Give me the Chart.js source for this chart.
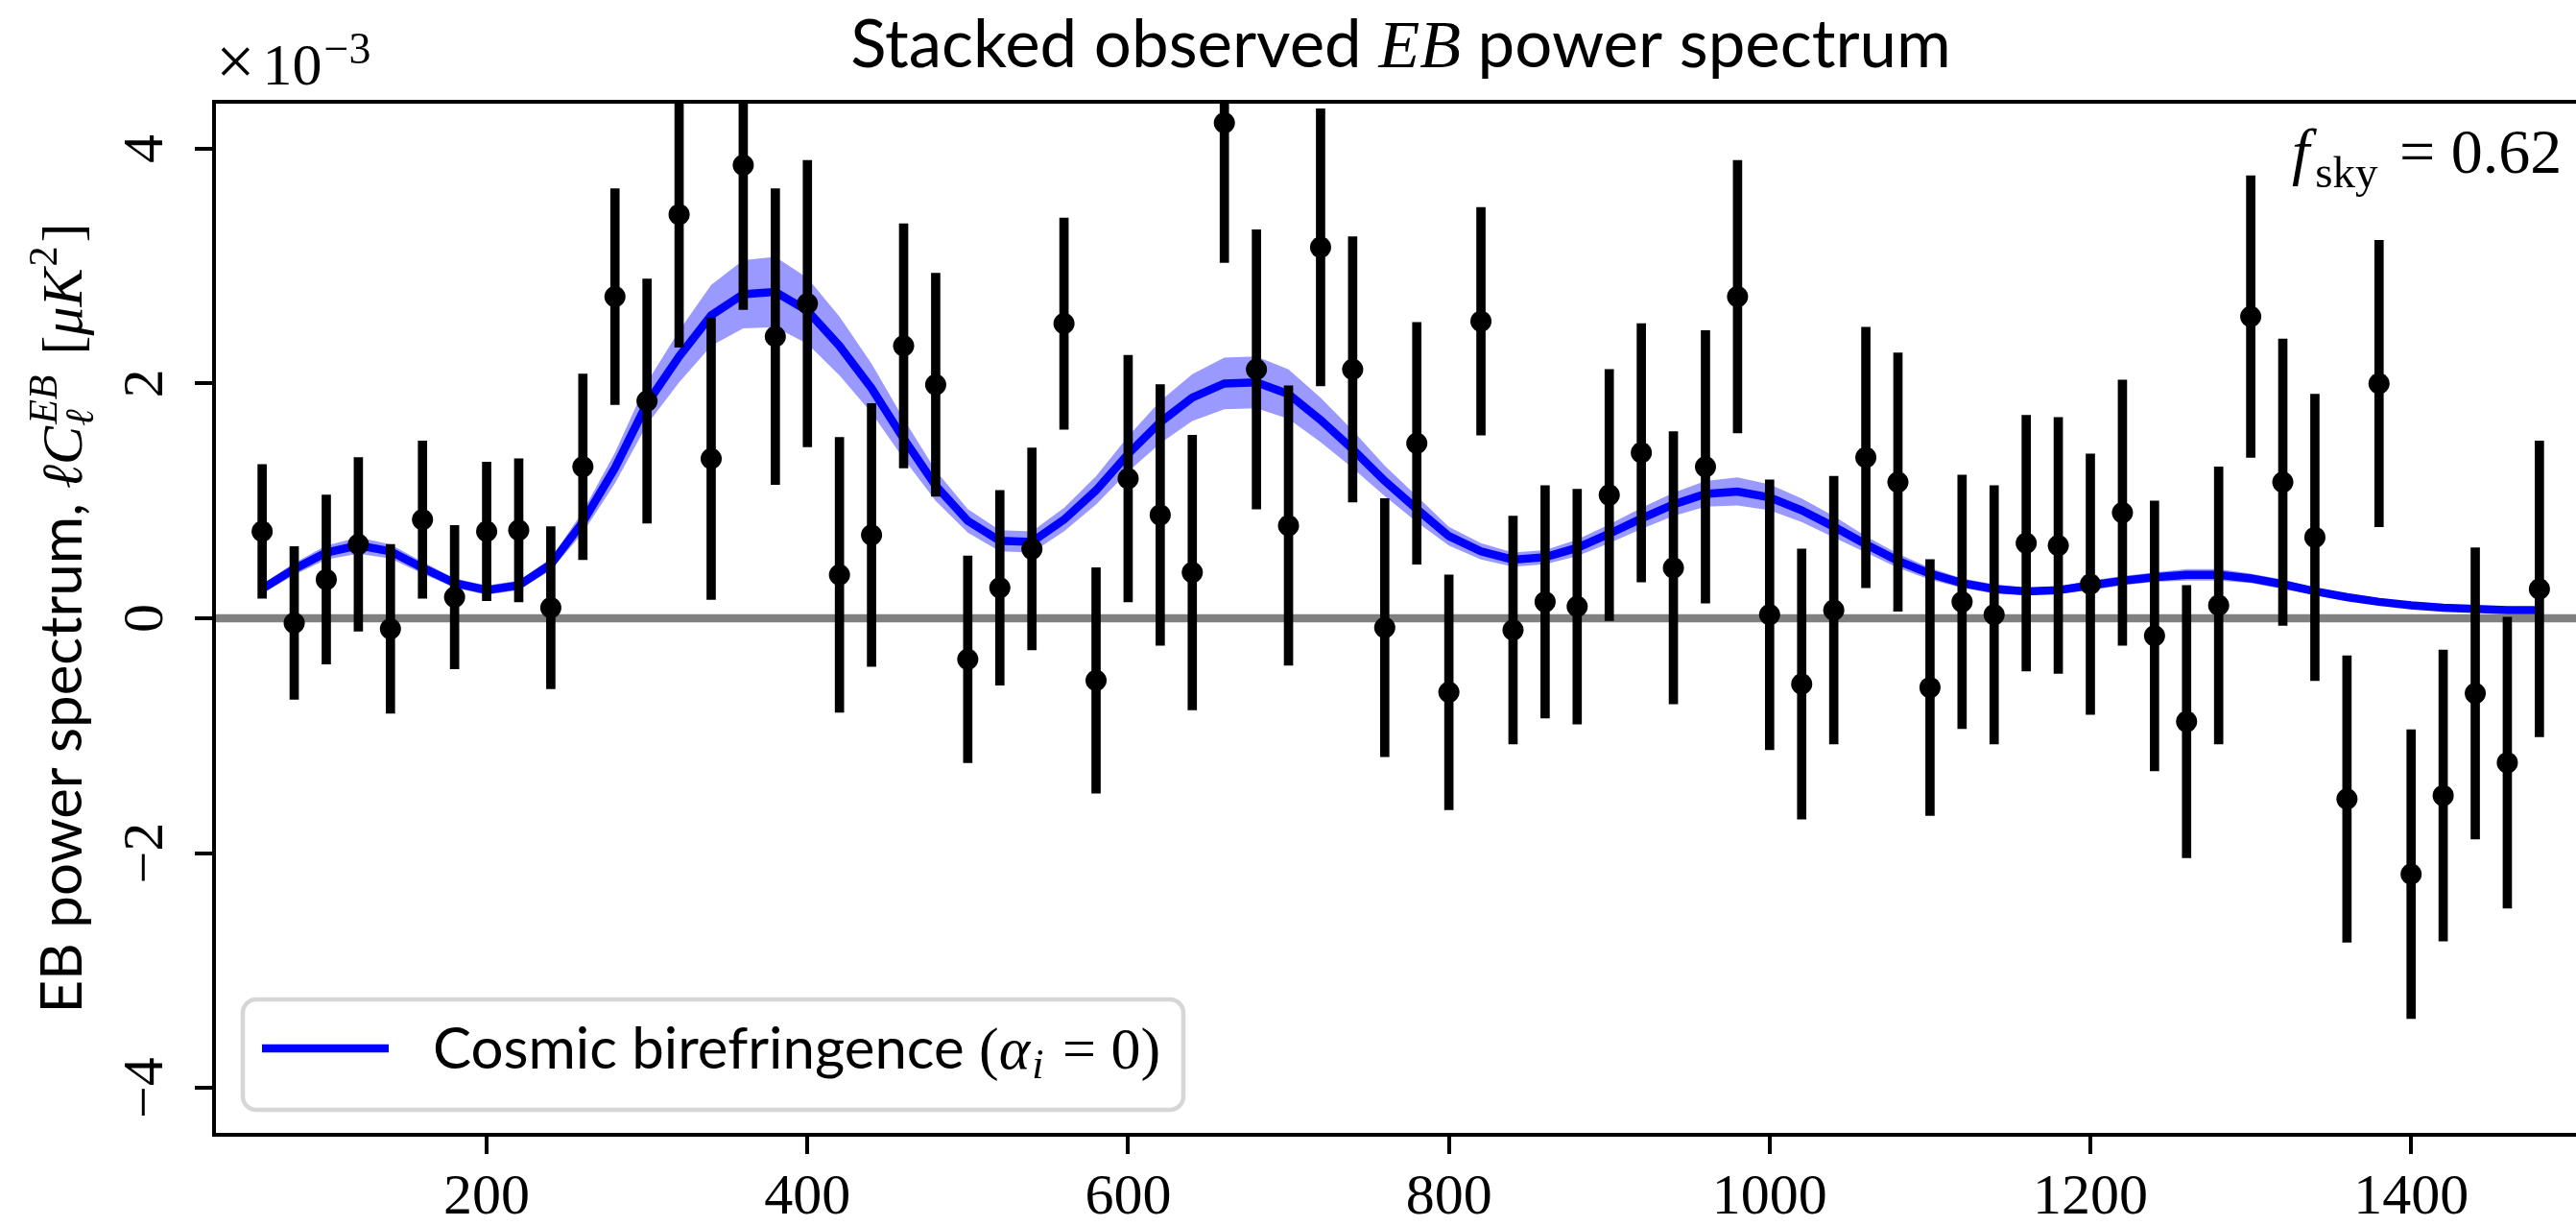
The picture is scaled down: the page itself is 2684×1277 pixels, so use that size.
<!DOCTYPE html>
<html>
<head>
<meta charset="utf-8">
<script src="https://cdn.jsdelivr.net/npm/chart.js@4.4.1/dist/chart.umd.min.js"></script>
<style>
    html, body { margin: 0; padding: 0; background: #fff; overflow: hidden; }
    canvas { display: block; }
</style>
</head>
<body>
<canvas id="ebChart" width="2707" height="1277"></canvas>
<script>
// multipole bins
const ells = [
    60, 80, 100, 120, 140, 160, 180, 200, 220, 240,
    260, 280, 300, 320, 340, 360, 380, 400, 420, 440,
    460, 480, 500, 520, 540, 560, 580, 600, 620, 640,
    660, 680, 700, 720, 740, 760, 780, 800, 820, 840,
    860, 880, 900, 920, 940, 960, 980, 1000, 1020, 1040,
    1060, 1080, 1100, 1120, 1140, 1160, 1180, 1200, 1220, 1240,
    1260, 1280, 1300, 1320, 1340, 1360, 1380, 1400, 1420, 1440,
    1460, 1480
];

// stacked observed EB, in units of 1e-3 uK^2
const obsEB = [
    0.74, -0.04, 0.33, 0.63, -0.09, 0.84, 0.18, 0.74, 0.75, 0.09,
    1.29, 2.74, 1.85, 3.44, 1.36, 3.86, 2.40, 2.68, 0.37, 0.71,
    2.32, 1.99, -0.35, 0.26, 0.59, 2.51, -0.53, 1.19, 0.88, 0.39,
    4.22, 2.12, 0.79, 3.16, 2.12, -0.08, 1.49, -0.63, 2.53, -0.10,
    0.14, 0.10, 1.05, 1.41, 0.43, 1.29, 2.74, 0.03, -0.56, 0.07,
    1.37, 1.16, -0.59, 0.14, 0.03, 0.64, 0.62, 0.29, 0.90, -0.15,
    -0.88, 0.11, 2.57, 1.16, 0.69, -1.54, 2.00, -2.18, -1.51, -0.64,
    -1.23, 0.25
];

const obsErr = [
    0.57, 0.65, 0.72, 0.74, 0.72, 0.67, 0.61, 0.59, 0.61, 0.69,
    0.79, 0.92, 1.04, 1.13, 1.20, 1.23, 1.26, 1.22, 1.17, 1.12,
    1.04, 0.95, 0.88, 0.83, 0.86, 0.90, 0.96, 1.05, 1.11, 1.17,
    1.19, 1.19, 1.19, 1.18, 1.13, 1.10, 1.03, 1.00, 0.97, 0.97,
    0.99, 1.00, 1.07, 1.10, 1.16, 1.16, 1.16, 1.15, 1.15, 1.14,
    1.11, 1.10, 1.09, 1.08, 1.10, 1.09, 1.09, 1.11, 1.13, 1.15,
    1.16, 1.18, 1.20, 1.22, 1.22, 1.22, 1.22, 1.23, 1.24, 1.24,
    1.24, 1.26
];

// cosmic birefringence model (alpha_i = 0) and its spread
const modelEB = [
    0.25, 0.42, 0.56, 0.62, 0.57, 0.43, 0.30, 0.24, 0.28, 0.46,
    0.82, 1.28, 1.83, 2.23, 2.58, 2.76, 2.78, 2.62, 2.32, 1.96,
    1.53, 1.13, 0.83, 0.66, 0.65, 0.84, 1.09, 1.40, 1.67, 1.88,
    2.00, 2.01, 1.91, 1.69, 1.44, 1.17, 0.93, 0.70, 0.57, 0.50,
    0.52, 0.60, 0.72, 0.85, 0.97, 1.06, 1.08, 1.03, 0.92, 0.78,
    0.63, 0.49, 0.38, 0.30, 0.25, 0.23, 0.24, 0.28, 0.32, 0.35,
    0.37, 0.37, 0.34, 0.29, 0.23, 0.18, 0.14, 0.11, 0.09, 0.08,
    0.07, 0.07
];

const modelErr = [
    0.04, 0.05, 0.06, 0.07, 0.06, 0.05, 0.04, 0.04, 0.04, 0.05,
    0.09, 0.13, 0.18, 0.22, 0.26, 0.29, 0.30, 0.28, 0.25, 0.21,
    0.17, 0.13, 0.10, 0.09, 0.09, 0.10, 0.12, 0.15, 0.18, 0.20,
    0.22, 0.22, 0.21, 0.19, 0.16, 0.13, 0.11, 0.08, 0.07, 0.06,
    0.06, 0.07, 0.08, 0.09, 0.10, 0.11, 0.12, 0.11, 0.10, 0.09,
    0.07, 0.06, 0.05, 0.04, 0.04, 0.03, 0.03, 0.04, 0.04, 0.04,
    0.05, 0.05, 0.04, 0.04, 0.03, 0.03, 0.02, 0.02, 0.02, 0.02,
    0.02, 0.02
];

const xTicksStep = 200;
const yTicksStep = 2;
const fskyValue = '0.62';

const SANS = "Lato, 'DejaVu Sans', sans-serif";
const SERIF = "'Liberation Serif', 'DejaVu Serif', serif";
const BLUE = '#0000ff';

// draws a row of text pieces with their own fonts; dy shifts sub/superscripts
function drawRuns(ctx, runs, x, y, align) {
    let total = 0;
    const widths = runs.map(r => {
        ctx.font = r.font;
        const w = r.stay ? 0 : ctx.measureText(r.t).width + (r.gap || 0);
        total += w;
        return w;
    });
    let cx = x;
    if (align === 'center') cx = x - total / 2;
    if (align === 'right') cx = x - total;
    ctx.textAlign = 'left';
    ctx.textBaseline = 'alphabetic';
    runs.forEach((r, i) => {
        ctx.font = r.font;
        ctx.fillText(r.t, cx + (r.gap || 0), y + (r.dy || 0));
        cx += widths[i];
    });
}

const sans = (size) => `${size}px ${SANS}`;
const serif = (size) => `${size}px ${SERIF}`;
const italic = (size) => `italic ${size}px ${SERIF}`;

const decorations = {
    id: 'decorations',
    beforeDatasetsDraw(chart) {
        const { ctx, chartArea: a, scales } = chart;
        const y0 = scales.y.getPixelForValue(0);
        ctx.save();
        ctx.strokeStyle = '#808080';
        ctx.lineWidth = 8.5;
        ctx.beginPath();
        ctx.moveTo(a.left, y0);
        ctx.lineTo(a.right, y0);
        ctx.stroke();
        ctx.restore();
    },
    afterDraw(chart) {
        const { ctx, chartArea: a, scales } = chart;
        ctx.save();

        // axes frame
        ctx.strokeStyle = '#000';
        ctx.lineWidth = 4;
        ctx.strokeRect(a.left, a.top, a.right - a.left, a.bottom - a.top);

        ctx.fillStyle = '#000';

        // y tick labels, rotated like the axis label
        scales.y.ticks.forEach(t => {
            const py = scales.y.getPixelForValue(t.value);
            const txt = t.value < 0 ? '\u2212' + Math.abs(t.value) : String(t.value);
            ctx.save();
            ctx.translate(a.left - 54, py);
            ctx.rotate(-Math.PI / 2);
            ctx.font = serif(60);
            ctx.textAlign = 'center';
            ctx.textBaseline = 'alphabetic';
            ctx.fillText(txt, 0, 0);
            ctx.restore();
        });

        // title
        drawRuns(ctx, [
            { t: 'Stacked observed ', font: sans(69) },
            { t: 'EB', font: italic(70) },
            { t: ' power spectrum', font: sans(69) }
        ], (a.left + a.right) / 2, 70, 'center');

        // y axis label
        ctx.save();
        ctx.translate(85, (a.top + a.bottom) / 2);
        ctx.rotate(-Math.PI / 2);
        drawRuns(ctx, [
            { t: 'EB power spectrum, ', font: sans(60) },
            { t: '\u2113C', font: italic(60) },
            { t: '\u2113', font: italic(42), dy: 12, stay: true },
            { t: 'EB', font: italic(42), dy: -26, gap: 2 },
            { t: ' [', font: serif(60), gap: 6 },
            { t: '\u03bcK', font: italic(60) },
            { t: '2', font: serif(42), dy: -26, gap: 2 },
            { t: ']', font: serif(60), gap: 4 }
        ], 0, 0, 'center');
        ctx.restore();

        // scale factor above the y axis
        drawRuns(ctx, [
            { t: '\u00d7', font: serif(72) },
            { t: '10', font: serif(62), gap: 8 },
            { t: '\u22123', font: serif(46), dy: -22, gap: 2 }
        ], a.left + 2, 88, 'left');

        // sky fraction note
        drawRuns(ctx, [
            { t: 'f', font: italic(66) },
            { t: 'sky', font: serif(47), dy: 15, gap: 6 },
            { t: ' = ' + fskyValue, font: serif(66), gap: 6 }
        ], a.left + (a.right - a.left) * 0.99 - 2, 180, 'right');

        // legend box
        const lx = 253, ly = 1041, lw = 980, lh = 115;
        ctx.beginPath();
        ctx.roundRect(lx, ly, lw, lh, 14);
        ctx.fillStyle = 'rgba(255,255,255,0.8)';
        ctx.fill();
        ctx.strokeStyle = '#d6d6d6';
        ctx.lineWidth = 4.5;
        ctx.stroke();

        const model = chart.data.datasets[2];
        ctx.strokeStyle = model.borderColor;
        ctx.lineWidth = model.borderWidth;
        ctx.beginPath();
        ctx.moveTo(lx + 20, ly + 51);
        ctx.lineTo(lx + 152, ly + 51);
        ctx.stroke();

        ctx.fillStyle = '#000';
        drawRuns(ctx, [
            { t: 'Cosmic birefringence ', font: sans(60) },
            { t: '(', font: serif(62) },
            { t: '\u03b1', font: italic(62) },
            { t: 'i', font: italic(44), dy: 10, gap: 2 },
            { t: ' = 0)', font: serif(62), gap: 4 }
        ], lx + 198, ly + 72, 'left');

        ctx.restore();
    }
};

const points = ells.map((l, i) => ({ x: l, y: obsEB[i] }));
const errorBars = ells.map((l, i) => ({ x: l, y: [obsEB[i] - obsErr[i], obsEB[i] + obsErr[i]] }));
const modelLine = ells.map((l, i) => ({ x: l, y: modelEB[i] }));
const modelHi = ells.map((l, i) => ({ x: l, y: modelEB[i] + modelErr[i] }));
const modelLo = ells.map((l, i) => ({ x: l, y: modelEB[i] - modelErr[i] }));

// only the outward tick marks, no grid on the plot
const tickGrid = {
    display: true,
    offset: false,
    drawOnChartArea: false,
    drawTicks: true,
    tickLength: 20,
    tickColor: '#000',
    tickWidth: 4,
    color: '#000',
    lineWidth: 4
};

new Chart(document.getElementById('ebChart'), {
    type: 'line',
    data: {
        datasets: [{
            type: 'scatter',
            label: 'observed',
            data: points,
            backgroundColor: '#000',
            borderWidth: 0,
            pointRadius: 11,
            order: 0
        }, {
            type: 'bar',
            label: 'errors',
            data: errorBars,
            backgroundColor: '#000',
            borderWidth: 0,
            barThickness: 9,
            order: 1
        }, {
            type: 'line',
            label: 'Cosmic birefringence',
            data: modelLine,
            borderColor: BLUE,
            borderWidth: 8.5,
            pointRadius: 0,
            tension: 0,
            fill: false,
            order: 2
        }, {
            type: 'line',
            label: 'model upper',
            data: modelHi,
            borderWidth: 0,
            pointRadius: 0,
            backgroundColor: 'rgba(0, 0, 255, 0.4)',
            fill: '+1',
            order: 3
        }, {
            type: 'line',
            label: 'model lower',
            data: modelLo,
            borderWidth: 0,
            pointRadius: 0,
            fill: false,
            order: 4
        }]
    },
    options: {
        responsive: false,
        devicePixelRatio: 1,
        animation: false,
        events: [],
        layout: { padding: { top: 106, right: 0, bottom: 0, left: 0 } },
        plugins: {
            legend: { display: false },
            tooltip: { enabled: false },
            title: { display: false }
        },
        scales: {
            x: {
                type: 'linear',
                min: 30,
                max: 1510,
                offset: false,
                grid: tickGrid,
                border: { display: false },
                ticks: {
                    stepSize: xTicksStep,
                    includeBounds: false,
                    autoSkip: false,
                    maxRotation: 0,
                    color: '#000',
                    padding: 10,
                    font: { family: SERIF, size: 60 },
                    callback: (v) => String(v)
                },
                afterFit: (scale) => { scale.height = 95; }
            },
            y: {
                type: 'linear',
                min: -4.4,
                max: 4.4,
                grid: tickGrid,
                border: { display: false },
                ticks: {
                    stepSize: yTicksStep,
                    includeBounds: false,
                    display: false
                },
                afterFit: (scale) => { scale.width = 223; }
            }
        }
    },
    plugins: [decorations]
});
</script>
</body>
</html>
